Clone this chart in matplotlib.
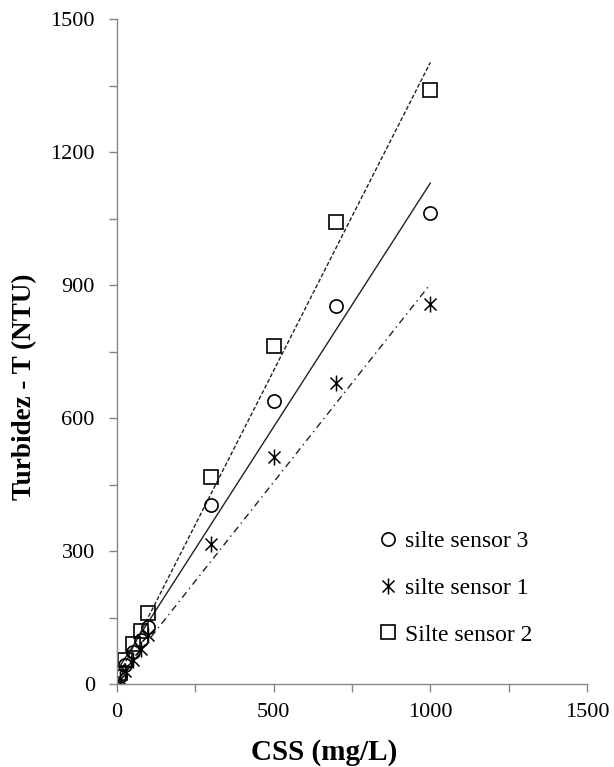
import numpy as np
import matplotlib
matplotlib.use("Agg")
import matplotlib.pyplot as plt
from matplotlib.path import Path
from matplotlib.ticker import MultipleLocator

plt.rcParams['font.family'] = ['Liberation Serif', 'DejaVu Serif']

# concentracoes (mg/L)
css = [10, 25, 50, 75, 100, 300, 500, 700, 1000]

# turbidez lida em cada sensor (NTU)
t_sensor3 = [18, 42, 72, 100, 128, 404, 638, 852, 1063]
t_sensor1 = [12, 30, 55, 80, 110, 316, 512, 680, 857]
t_sensor2 = [25, 55, 90, 120, 160, 468, 762, 1042, 1340]

labels = ['silte sensor 3', 'silte sensor 1', 'Silte sensor 2']

# linhas de tendencia (inclinacao, intercepto)
trend_sensor3 = (1.10, 30)
trend_sensor1 = (0.893, 9)
trend_sensor2 = (1.39, 12)

# marcador asterisco (vertical + X) como no excel
star = Path([(0, -1), (0, 1), (-0.75, -0.75), (0.75, 0.75), (-0.75, 0.75), (0.75, -0.75)],
            [Path.MOVETO, Path.LINETO, Path.MOVETO, Path.LINETO, Path.MOVETO, Path.LINETO])

fig = plt.figure(figsize=(6.14, 7.67), dpi=100)
ax = fig.add_axes([117/614, 1 - 684/767, 470/614, 665/767])

xt = np.array([min(css), max(css)])
ax.plot(xt, trend_sensor3[0]*xt + trend_sensor3[1], color='#222222', lw=1.0, ls='-')
ax.plot(xt, trend_sensor1[0]*xt + trend_sensor1[1], color='#222222', lw=1.0, ls=(0, (5, 3, 1, 3)))
ax.plot(xt, trend_sensor2[0]*xt + trend_sensor2[1], color='#222222', lw=1.0, ls=(0, (3, 1.5)))

h3, = ax.plot(css, t_sensor3, ls='none', marker='o', ms=9.5, mfc='none', mec='black', mew=1.2)
h1, = ax.plot(css, t_sensor1, ls='none', marker=star, ms=11.5, mfc='none', mec='black', mew=1.1)
h2, = ax.plot(css, t_sensor2, ls='none', marker='s', ms=10.5, mfc='none', mec='black', mew=1.2)

ax.set_xlim(0, 1500)
ax.set_ylim(0, 1500)
ax.xaxis.set_major_locator(MultipleLocator(500))
ax.xaxis.set_minor_locator(MultipleLocator(250))
ax.yaxis.set_major_locator(MultipleLocator(300))
ax.yaxis.set_minor_locator(MultipleLocator(150))

for s in ['top', 'right']:
    ax.spines[s].set_visible(False)
for s in ['left', 'bottom']:
    ax.spines[s].set_color('#868686')
    ax.spines[s].set_linewidth(1.0)

ax.tick_params(which='both', direction='out', length=6, width=1.0, color='#868686')
ax.tick_params(axis='x', which='major', labelsize=16, pad=8)
ax.tick_params(axis='y', which='major', labelsize=16, pad=10)

fig.text(324/614, 1 - 752/767, 'CSS (mg/L)', fontsize=21, fontweight='bold',
         ha='center', va='center')
fig.text(25/614, 1 - 387/767, 'Turbidez - T (NTU)', fontsize=19.5, fontweight='bold',
         ha='center', va='center', rotation=90)

ax.legend([h3, h1, h2], labels, loc='upper left', bbox_to_anchor=(0.537, 0.245),
          frameon=False, fontsize=17, handlelength=0.8, handletextpad=0.3,
          labelspacing=1.07, borderaxespad=0)

fig.savefig('out.png', dpi=100)
